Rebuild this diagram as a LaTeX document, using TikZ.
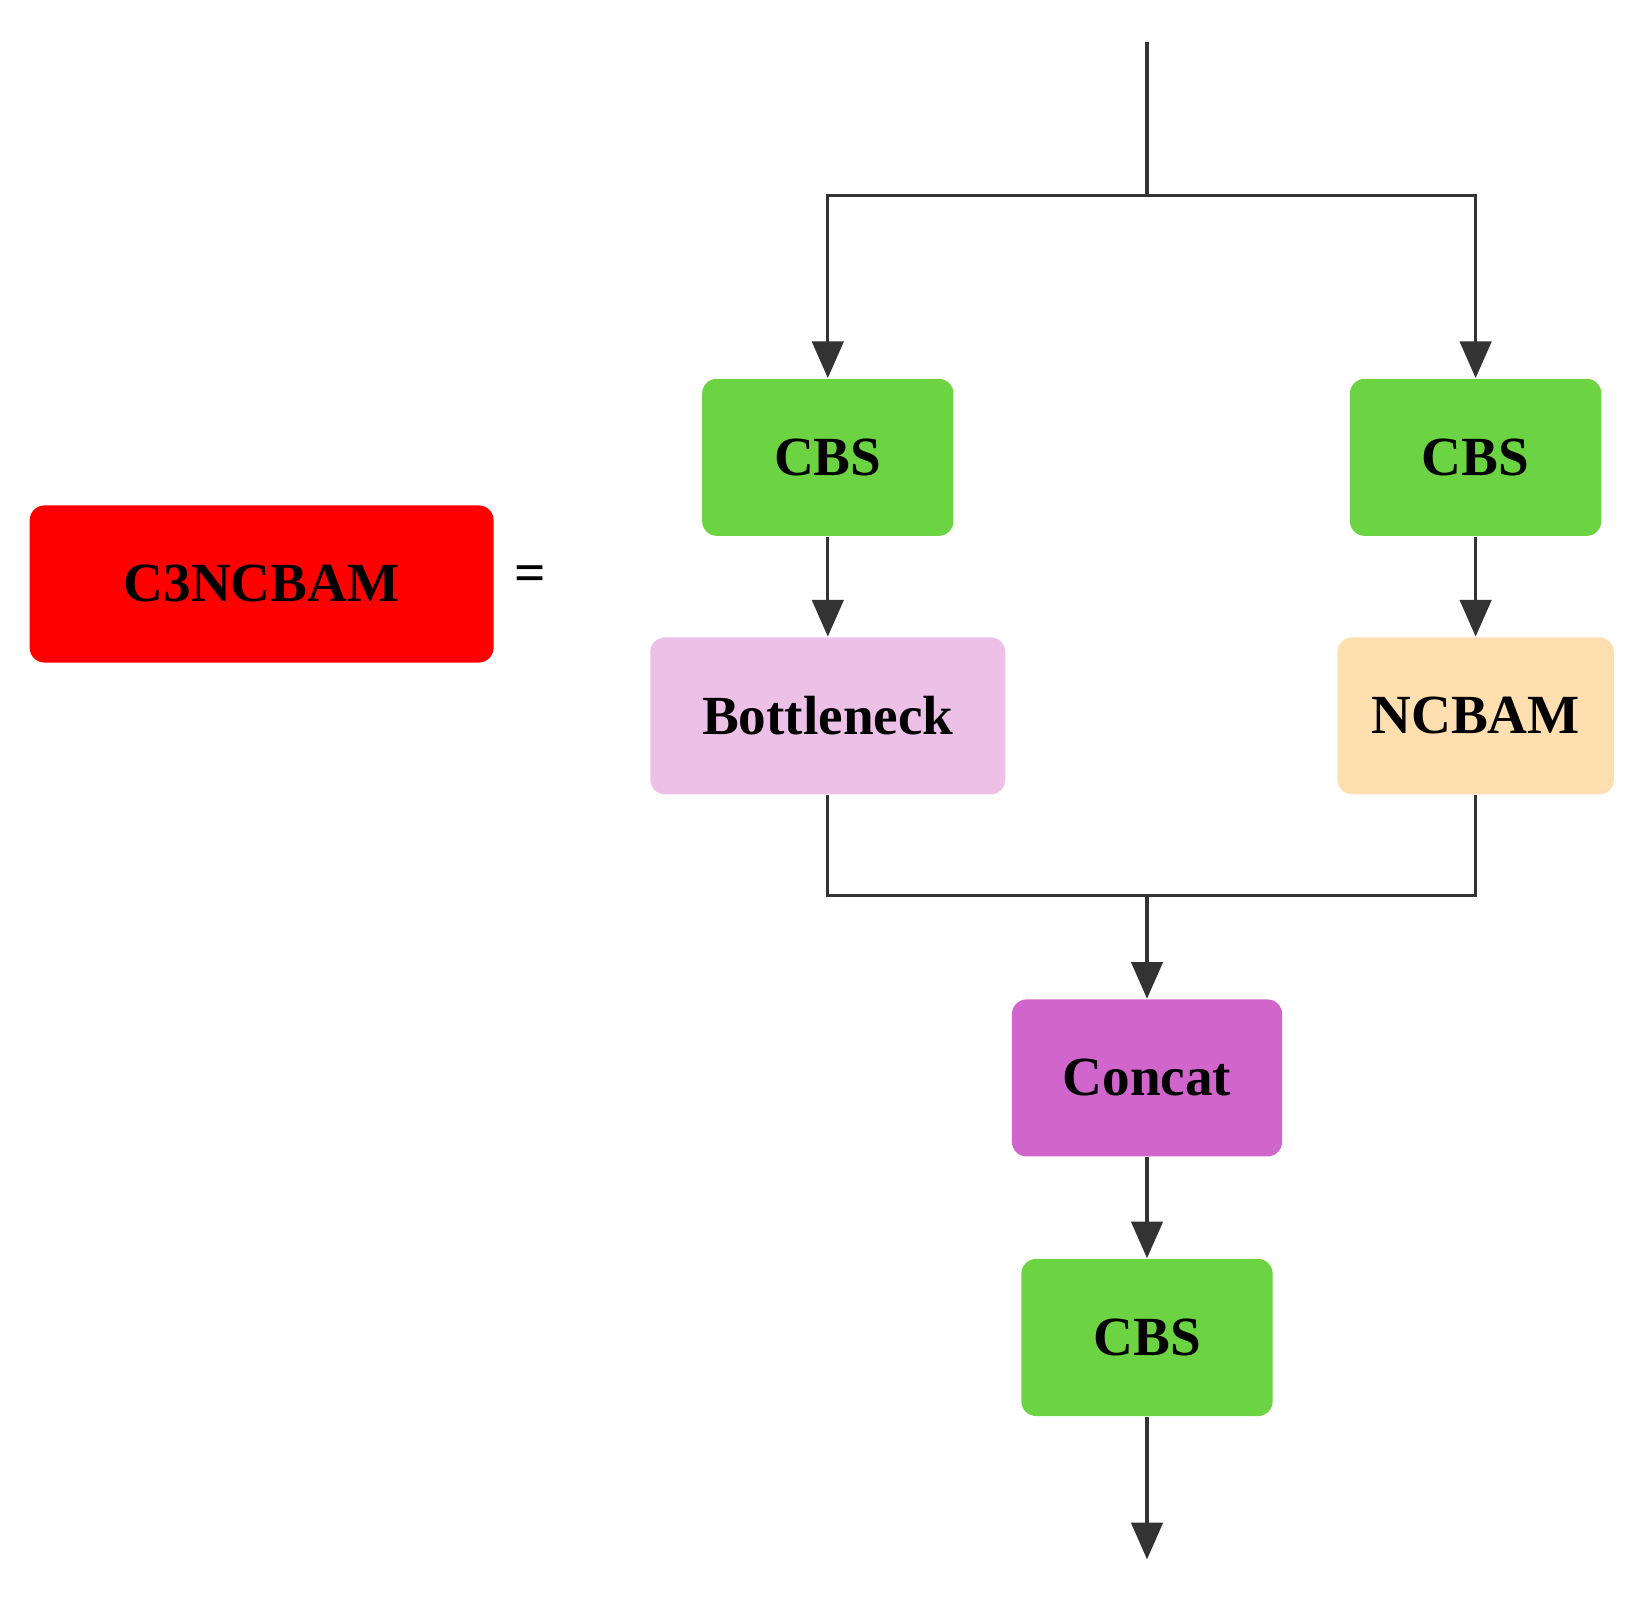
\documentclass[tikz,border=0pt]{standalone}
\usepackage{fontspec}
\setmainfont{Liberation Serif}
\usetikzlibrary{positioning,arrows.meta}

\definecolor{cbsgreen}{HTML}{6CD442}
\definecolor{c3red}{HTML}{FF0000}
\definecolor{btlpink}{HTML}{EDC0E8}
\definecolor{ncbamorange}{HTML}{FFDFB0}
\definecolor{concatpurple}{HTML}{D066CC}
\definecolor{linegray}{HTML}{333333}

\tikzset{
    bloque/.style={rectangle, rounded corners=4pt, minimum height=1.5cm,
        font=\fontsize{15}{18}\selectfont\bfseries},
    flecha/.style={draw=linegray, line width=0.85pt,
        -{Triangle[width=0.3cm,length=0.35cm]}},
    linea/.style={draw=linegray, line width=0.85pt}
}

\begin{document}
\begin{tikzpicture}[x=0.01cm, y=-0.01cm]

    \useasboundingbox (0,0) rectangle (1568,1527);

    % Bloques
    \node[bloque, fill=c3red, minimum width=4.43cm] (c3) at (250,558) {C3NCBAM};
    \node[font=\fontsize{15}{18}\selectfont\bfseries] (igual) at (507,553) {=};
    \node[bloque, fill=cbsgreen, minimum width=2.4cm] (cbsa) at (791,437) {CBS};
    \node[bloque, fill=cbsgreen, minimum width=2.4cm] (cbsb) at (1410,437) {CBS};
    \node[bloque, fill=btlpink, minimum width=3.39cm] (btl) at (791,684) {Bottleneck};
    \node[bloque, fill=ncbamorange, minimum width=2.64cm] (ncbam) at (1410,684) {NCBAM};
    \node[bloque, fill=concatpurple, minimum width=2.58cm] (concat) at (1096,1030) {Concat};
    \node[bloque, fill=cbsgreen, minimum width=2.4cm] (cbsc) at (1096,1278) {CBS};

    % Puntos auxiliares
    \coordinate (entrada) at (1096,40);
    \coordinate (split) at (1096,187);
    \coordinate (merge) at (1096,856);
    \coordinate (salida) at (1096,1490);

    % Conexiones
    \draw[linea] (entrada) -- (split);
    \draw[flecha] (split) -| (cbsa.north);
    \draw[flecha] (split) -| (cbsb.north);
    \draw[flecha] (cbsa) -- (btl);
    \draw[flecha] (cbsb) -- (ncbam);
    \draw[linea] (btl.south) |- (merge);
    \draw[linea] (ncbam.south) |- (merge);
    \draw[flecha] (merge) -- (concat);
    \draw[flecha] (concat) -- (cbsc);
    \draw[flecha] (cbsc) -- (salida);

\end{tikzpicture}
\end{document}
